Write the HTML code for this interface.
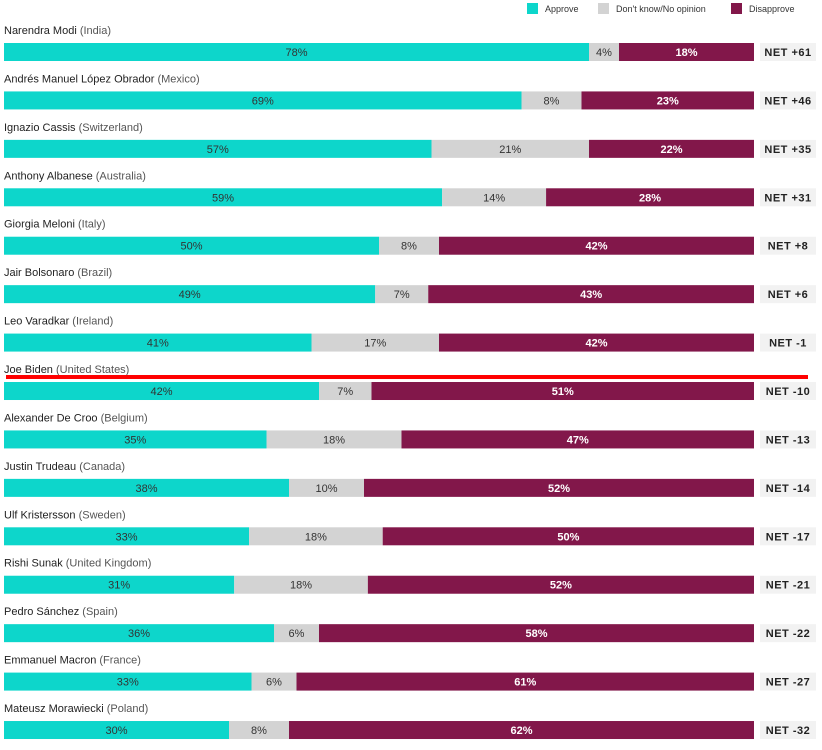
<!DOCTYPE html>
<html><head><meta charset="utf-8"><style>
body{margin:0;background:#fff;width:822px;height:745px;overflow:hidden;font-family:"Liberation Sans",sans-serif}
svg text{font-family:"Liberation Sans",sans-serif}
</style></head><body>
<svg id="chart" width="822" height="745" xmlns="http://www.w3.org/2000/svg">
<g font-size="9" fill="#333">
<rect x="527" y="3" width="11" height="11" fill="#0dd6cb"/><text x="545" y="12">Approve</text>
<rect x="598" y="3" width="11" height="11" fill="#d3d3d3"/><text x="616" y="12">Don't know/No opinion</text>
<rect x="731" y="3" width="11" height="11" fill="#82174a"/><text x="749" y="12">Disapprove</text>
</g>
</svg>
<script>
const leaders=["Narendra Modi","Andrés Manuel López Obrador","Ignazio Cassis","Anthony Albanese","Giorgia Meloni","Jair Bolsonaro","Leo Varadkar","Joe Biden","Alexander De Croo","Justin Trudeau","Ulf Kristersson","Rishi Sunak","Pedro Sánchez","Emmanuel Macron","Mateusz Morawiecki"];
const countries=["India","Mexico","Switzerland","Australia","Italy","Brazil","Ireland","United States","Belgium","Canada","Sweden","United Kingdom","Spain","France","Poland"];
const approve=[78,69,57,59,50,49,41,42,35,38,33,31,36,33,30];
const dontKnow=[4,8,21,14,8,7,17,7,18,10,18,18,6,6,8];
const disapprove=[18,23,22,28,42,43,42,51,47,52,50,52,58,61,62];
const net=["+61","+46","+35","+31","+8","+6","-1","-10","-13","-14","-17","-21","-22","-27","-32"];
const highlight="Joe Biden";
const svg=document.getElementById('chart');const NS="http://www.w3.org/2000/svg";
const x0=4,x1=754;
const rowY=i=>43+i*48.43;
function mk(t,a,p){const e=document.createElementNS(NS,t);for(const k in a)e.setAttribute(k,a[k]);(p||svg).appendChild(e);return e;}
leaders.forEach((n,i)=>{
 const y=rowY(i);
 const tot=approve[i]+dontKnow[i]+disapprove[i];
 const xs=v=>x0+v*(x1-x0)/tot;
 const g=mk('g',{});
 
 
 const lab=mk('text',{x:4,y:y-9,'font-size':11,fill:'#222'},g);
 
 
 lab.innerHTML=n+' <tspan fill="#555">('+countries[i]+')</tspan>';
 if(n===highlight){const r=mk('rect',{x:6,y:y-7,width:802,height:4,fill:'#ff0000'},g);
 
 }
 const a=xs(approve[i]),d=xs(approve[i]+dontKnow[i]);
 const segs=[[x0,a,'#0dd6cb',approve[i],'#333','normal','approve'],[a,d,'#d3d3d3',dontKnow[i],'#333','normal','dont-know'],[d,x1,'#82174a',disapprove[i],'#fff','bold','disapprove']];
 segs.forEach(s=>{
  const r=mk('rect',{x:s[0],y:y,width:s[1]-s[0],height:18,fill:s[2]},g);
  
  
  const t=mk('text',{x:(s[0]+s[1])/2,y:y+13,'font-size':11,'text-anchor':'middle',fill:s[4],'font-weight':s[5]},g);
  
  
  t.textContent=s[3]+'%';
 });
 const b=mk('rect',{x:760,y:y,width:56,height:18,fill:'#f2f2f2'},g);
 
 
 const nt=mk('text',{x:788,y:y+13,'font-size':11,'font-weight':'bold','text-anchor':'middle',fill:'#222','letter-spacing':'0.5'},g);
 
 
 nt.textContent='NET '+net[i];
});
</script>
</body></html>
